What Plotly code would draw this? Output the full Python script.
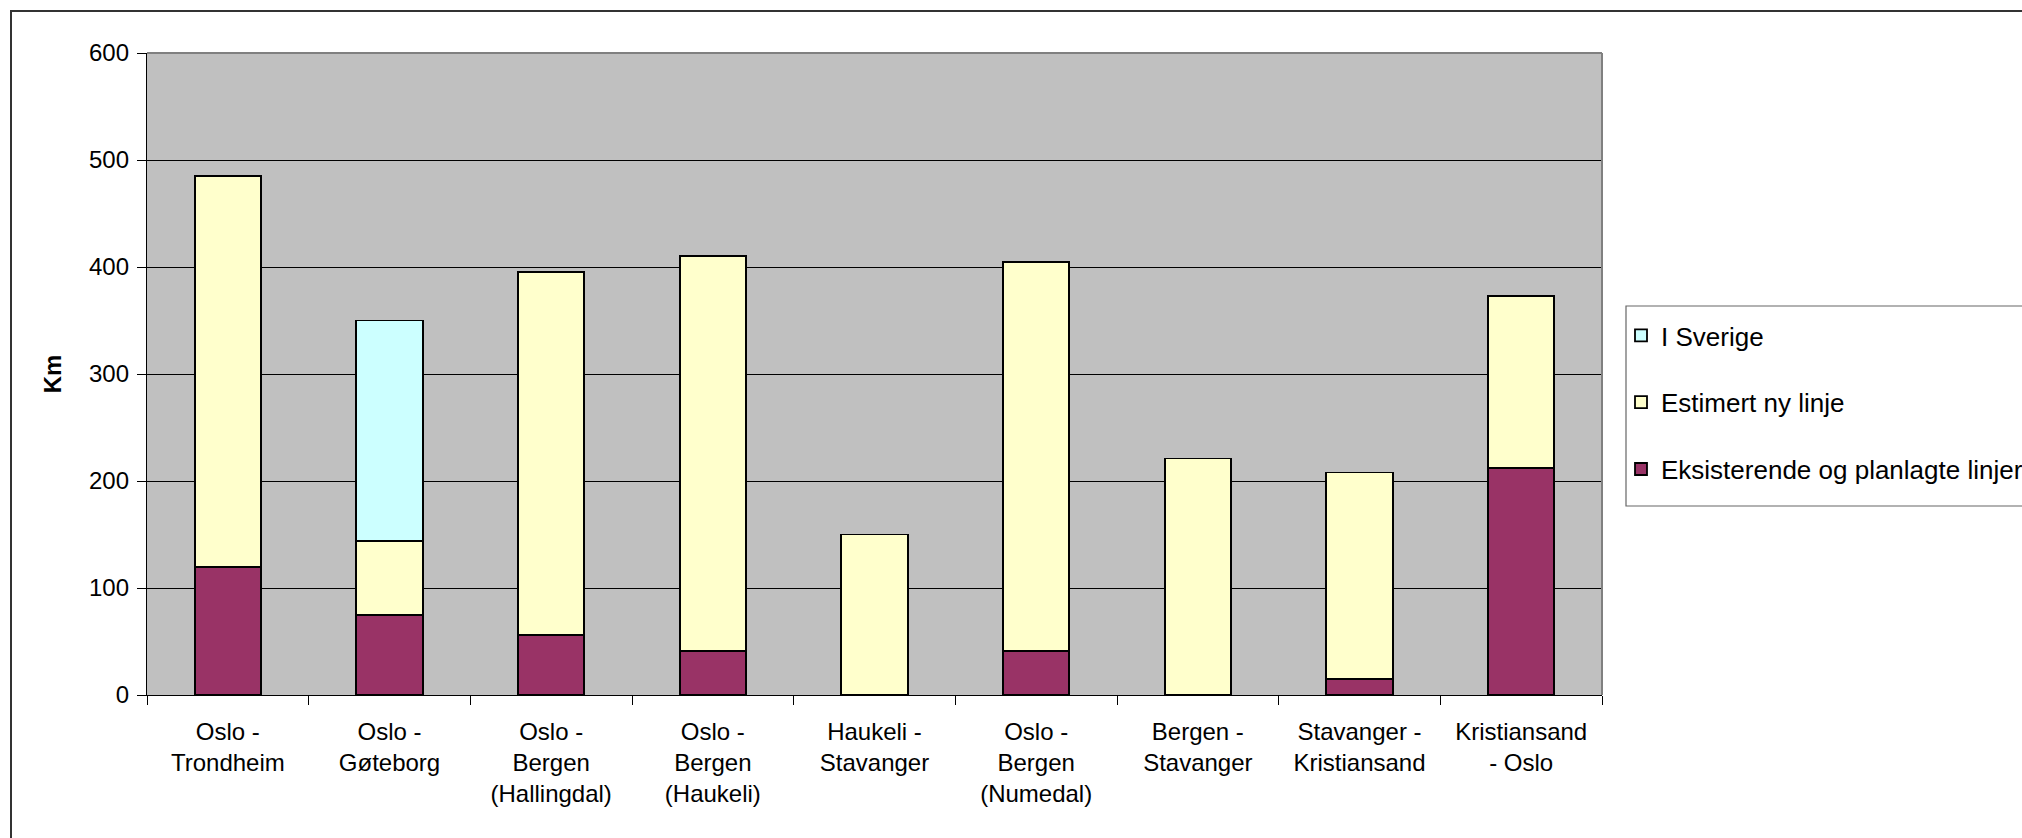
import plotly.graph_objects as go

categories = [
    "Oslo -<br>Trondheim",
    "Oslo -<br>Gøteborg",
    "Oslo -<br>Bergen<br>(Hallingdal)",
    "Oslo -<br>Bergen<br>(Haukeli)",
    "Haukeli -<br>Stavanger",
    "Oslo -<br>Bergen<br>(Numedal)",
    "Bergen -<br>Stavanger",
    "Stavanger -<br>Kristiansand",
    "Kristiansand<br>- Oslo",
]
eksisterende = [120, 75, 56, 41, 0, 41, 0, 15, 212]
estimert = [365, 69, 339, 369, 150, 364, 221, 193, 161]
i_sverige = [0, 206, 0, 0, 0, 0, 0, 0, 0]
y_ticks = [0, 100, 200, 300, 400, 500, 600]

FONT = "Arial, Liberation Sans, sans-serif"
W, H = 2022, 838
L, R, T, B = 147, 1602, 53, 695
PW, PH = R - L, B - T


def px_x(p):
    return (p - L) / PW


def px_y(p):
    return (B - p) / PH


fig = go.Figure()
series = [
    ("Eksisterende og planlagte linjer", eksisterende, "#993366", 3),
    ("Estimert ny linje", estimert, "#FFFFCC", 2),
    ("I Sverige", i_sverige, "#CCFFFF", 1),
]
for name, vals, col, rank in series:
    fig.add_trace(go.Bar(
        x=categories, y=vals, name=name, legendgroup=name, legendrank=rank,
        marker=dict(color=col, line=dict(color="#000000", width=1.8)),
    ))

fig.update_layout(
    width=W, height=H,
    margin=dict(l=L, r=W - R, t=T, b=H - B, autoexpand=False),
    paper_bgcolor="white", plot_bgcolor="#C0C0C0",
    barmode="stack", bargap=0.59,
    font=dict(family=FONT, size=24, color="#000000"),
    showlegend=True,
    legend=dict(
        x=px_x(1621), xanchor="left", y=px_y(312), yanchor="top",
        traceorder="grouped", tracegroupgap=30,
        font=dict(family=FONT, size=26, color="#000000"),
        bgcolor="rgba(0,0,0,0)", borderwidth=0,
    ),
    xaxis=dict(
        type="category", showgrid=False, showline=True, linecolor="#000000", linewidth=1.3,
        ticks="outside", ticklen=9, tickcolor="#000000", tickwidth=1.3,
        tickson="boundaries", ticklabelstandoff=15,
        tickfont=dict(family=FONT, size=24),
    ),
    yaxis=dict(
        range=[0, 600], tickvals=y_ticks, showgrid=True, gridcolor="#000000", gridwidth=1,
        zeroline=False, showline=True, linecolor="#000000", linewidth=1.3,
        ticks="outside", ticklen=9, tickcolor="#000000", tickwidth=1.3,
        ticklabelstandoff=3,
        tickfont=dict(family=FONT, size=24),
        title=dict(text="<b>Km</b>", font=dict(family=FONT, size=24), standoff=20),
    ),
)

# plot-area border (top/right in gray)
fig.add_shape(type="line", xref="paper", yref="paper", x0=0, x1=1, y0=1, y1=1,
              line=dict(color="#808080", width=2), layer="above")
fig.add_shape(type="line", xref="paper", yref="paper", x0=1, x1=1, y0=0, y1=1,
              line=dict(color="#808080", width=2), layer="above")
# legend box
fig.add_shape(type="rect", xref="paper", yref="paper",
              x0=px_x(1626), x1=px_x(2060), y0=px_y(506), y1=px_y(306),
              line=dict(color="#666666", width=1.2), fillcolor="white", layer="below")
# outer chart border
fig.add_shape(type="rect", xref="paper", yref="paper",
              x0=px_x(11), x1=px_x(2060), y0=px_y(870), y1=px_y(11),
              line=dict(color="#333333", width=2), fillcolor="rgba(0,0,0,0)", layer="below")

fig.write_html("out.html")
